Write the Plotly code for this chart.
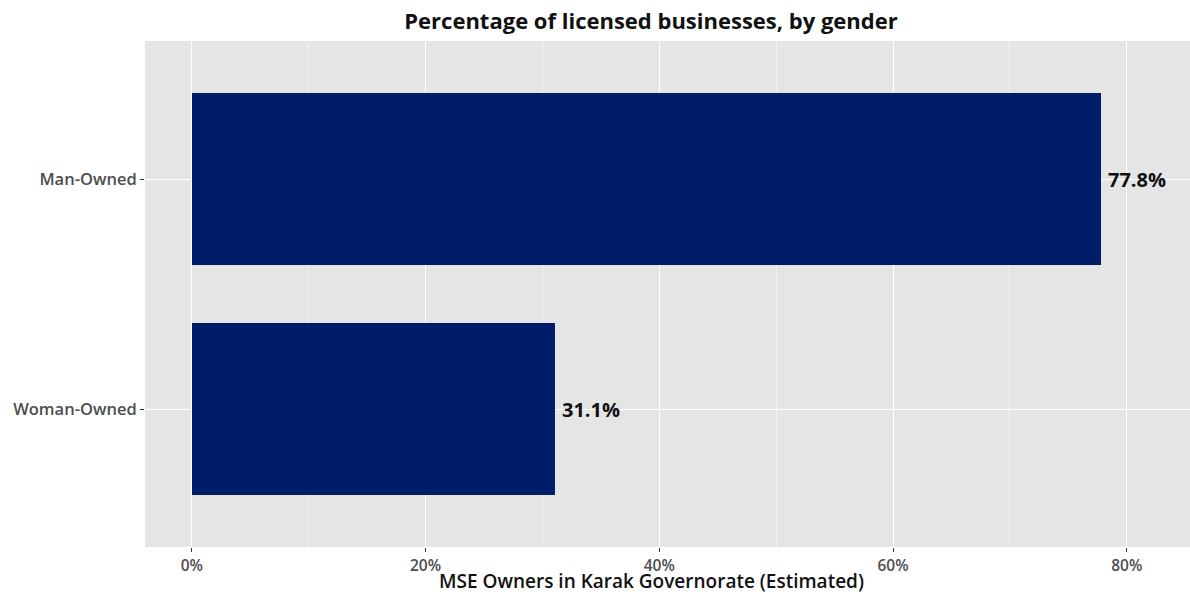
import plotly.graph_objects as go

categories = ["Woman-Owned", "Man-Owned"]
values = [31.1, 77.8]
labels = ["31.1%", "77.8%"]
tick_vals = [0, 20, 40, 60, 80]
tick_text = ["0%", "20%", "40%", "60%", "80%"]
minor_vals = [10, 30, 50, 70]

FONT = "Open Sans"

fig = go.Figure()
fig.add_trace(go.Bar(
    y=categories, x=values, orientation="h", width=0.75,
    marker=dict(color="#001D6A", line=dict(width=0)),
    hoverinfo="skip",
))
for cat, val, lab in zip(categories, values, labels):
    fig.add_annotation(x=val, y=cat, text="<b>" + lab + "</b>", showarrow=False,
                       xanchor="left", yanchor="middle", xshift=5,
                       font=dict(family=FONT, size=20, color="#111111"))

# x-axis title as annotation for precise placement
fig.add_annotation(x=(651 - 145) / 1045, xref="paper", y=(547 - 581) / 506, yref="paper",
                   text="MSE Owners in Karak Governorate (Estimated)", showarrow=False,
                   xanchor="center", yanchor="middle",
                   font=dict(family=FONT, size=19, color="#111111", weight=600))

fig.update_layout(
    width=1190, height=594,
    margin=dict(l=145, r=0, t=41, b=47, autoexpand=False),
    paper_bgcolor="white", plot_bgcolor="#E5E5E5",
    showlegend=False, bargap=0,
    title=dict(text="<b>Percentage of licensed businesses, by gender</b>",
               x=651 / 1190, xanchor="center", xref="container", y=1 - 21 / 594, yref="container",
               yanchor="middle",
               font=dict(family=FONT, size=22, color="#111111")),
    font=dict(family=FONT),
)
fig.update_xaxes(
    range=[-4.0, 85.41], tickvals=tick_vals, ticktext=tick_text,
    showgrid=True, gridcolor="white", gridwidth=1.4, zeroline=False,
    ticks="outside", ticklen=4, tickcolor="#333333", tickwidth=1.2,
    tickfont=dict(family=FONT, size=15.5, color="#4D4D4D", weight=600),
    minor=dict(tickvals=minor_vals, showgrid=True, gridcolor="#F2F2F2", gridwidth=0.8, ticks=""),
    showline=False, automargin=False,
)
fig.update_yaxes(
    categoryorder="array", categoryarray=categories, range=[-0.6, 1.6],
    showgrid=True, gridcolor="white", gridwidth=1.4, zeroline=False,
    ticks="outside", ticklen=4, tickcolor="#333333", tickwidth=1.2,
    tickfont=dict(family=FONT, size=16.5, color="#4D4D4D", weight=600),
    showline=False, automargin=False,
)

fig.write_html("out.html", config={"displayModeBar": False},
               post_script="document.body.style.margin='0';document.body.style.overflow='hidden';")
